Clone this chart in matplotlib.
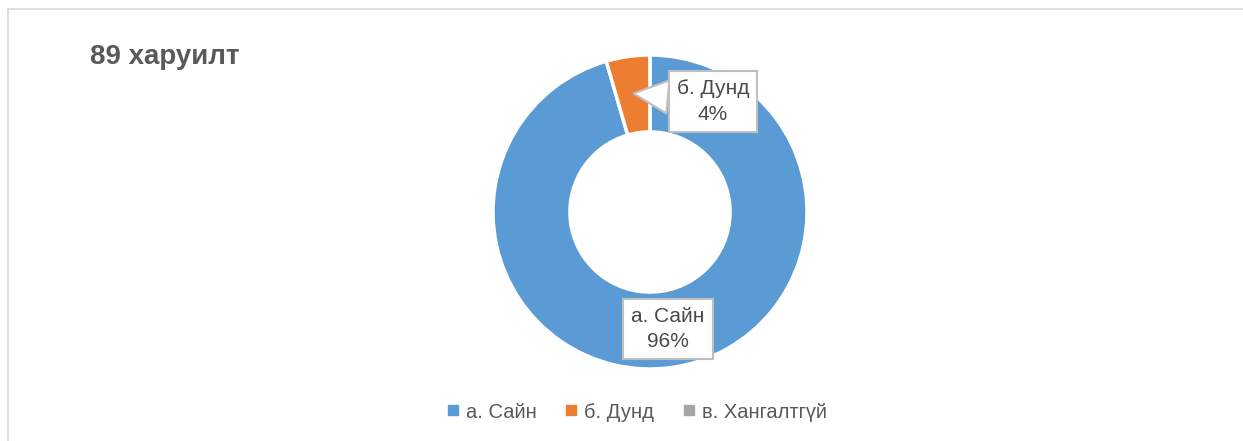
import matplotlib
matplotlib.use('Agg')
import matplotlib.pyplot as plt
from matplotlib.lines import Line2D

categories = ["а. Сайн", "б. Дунд", "в. Хангалтгүй"]
counts = [85, 4, 0]
colors = ['#5B9BD5', '#ED7D31', '#A5A5A5']
title = "89 харуилт"

plt.rcParams['font.family'] = ['Liberation Sans', 'DejaVu Sans']

W, H = 1243, 441
fig = plt.figure(figsize=(W / 100, H / 100), dpi=100)

# chart frame (cropped on right / bottom)
fig.add_artist(Line2D([8 / W, 8 / W], [0, 1 - 9 / H], color='#D9D9D9', lw=1.2))
fig.add_artist(Line2D([8 / W, 1], [1 - 9 / H, 1 - 9 / H], color='#D9D9D9', lw=1.2))

cx, cy, r = 650, 212, 157
ax = fig.add_axes([(cx - r) / W, (H - cy - r) / H, 2 * r / W, 2 * r / H])
wedges, _ = ax.pie(counts, colors=colors, startangle=90, counterclock=False,
                   radius=1.0, wedgeprops=dict(width=0.49, edgecolor='white', linewidth=2.5))
ax.set_xlim(-1, 1)
ax.set_ylim(-1, 1)
ax.set_aspect('equal')
ax.axis('off')

total = sum(counts)
pcts = [round(100 * c / total) for c in counts]

box = dict(boxstyle='square,pad=0.38', fc='white', ec='#BFBFBF', lw=1.5)
ax.text(0.115, -0.745, f"{categories[0]}\n{pcts[0]}%", ha='center', va='center',
        fontsize=15, color='#4a4a4a', bbox=box, linespacing=1.45)
ax.annotate(f"{categories[1]}\n{pcts[1]}%", xy=(-0.105, 0.755), xytext=(0.40, 0.705),
            ha='center', va='center', fontsize=15, color='#4a4a4a', bbox=box,
            linespacing=1.45,
            arrowprops=dict(arrowstyle='wedge,tail_width=1.6,shrink_factor=0.5',
                            fc='white', ec='#BFBFBF', lw=1.5, shrinkA=0, shrinkB=0))

fig.text(90 / W, 1 - 57 / H, title, fontsize=20, fontweight='bold', color='#595959',
         ha='left', va='center')

handles = [Line2D([], [], marker='s', ls='none', markersize=7, color=c) for c in colors]
fig.legend(handles, categories, loc='center', bbox_to_anchor=(636 / W, 29 / H), ncol=3,
           frameon=False, fontsize=14.5, labelcolor='#595959', handletextpad=0.25,
           handlelength=0.8, columnspacing=1.3)

fig.savefig('out.png', dpi=100)
